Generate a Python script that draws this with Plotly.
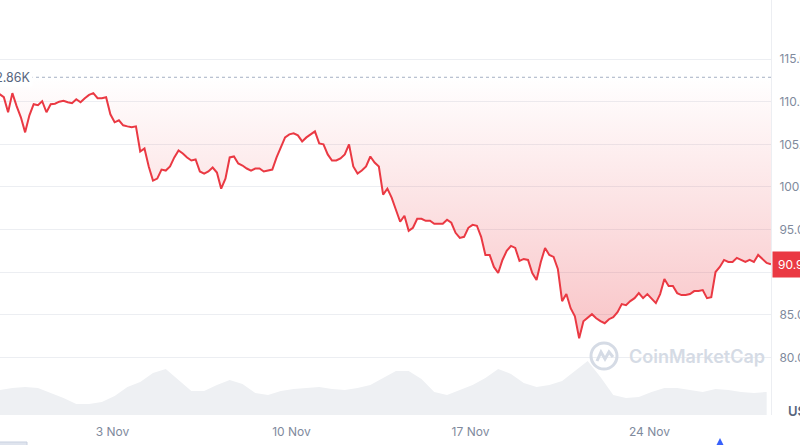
import pandas as pd
import plotly.graph_objects as go

# ---- data ----
price_start = "2025-10-29 14:00"
price_freq = "4h"
prices_k = [
    110.88, 110.52, 108.76, 111.00, 109.47, 108.17, 106.40, 108.40, 109.70, 109.58,
    110.05, 108.76, 109.70, 109.76, 110.00, 110.10, 109.93, 109.82, 110.29, 109.93,
    110.41, 110.80, 111.00, 110.41, 110.41, 110.52, 108.52, 107.58, 107.81, 107.23,
    107.10, 106.99, 107.10, 104.16, 104.52, 102.40, 100.75, 100.98, 102.04, 101.92,
    102.40, 103.46, 104.28, 103.93, 103.46, 103.10, 103.22, 101.81, 101.57, 101.81,
    102.28, 101.69, 99.80, 100.98, 103.46, 103.57, 102.75, 102.51, 102.16, 101.92,
    102.16, 102.16, 101.81, 101.92, 102.04, 103.46, 104.75, 105.81, 106.17, 106.28,
    106.05, 105.34, 105.81, 106.17, 106.52, 105.11, 104.99, 103.81, 103.10, 103.10,
    103.34, 103.81, 104.99, 102.40, 101.57, 101.92, 102.40, 103.57, 102.87, 102.40,
    99.10, 99.80, 98.74, 97.33, 95.92, 96.62, 94.86, 95.21, 96.27, 96.27,
    96.03, 96.03, 95.68, 95.68, 95.68, 96.15, 95.80, 94.62, 94.03, 94.15,
    95.21, 95.56, 95.45, 94.15, 92.03, 92.03, 90.62, 89.91, 91.44, 92.50,
    93.09, 92.85, 91.32, 91.56, 91.44, 89.91, 89.08, 91.20, 92.85, 92.03,
    91.80, 90.38, 86.61, 87.44, 85.78, 84.84, 82.25, 84.26, 84.73, 85.08,
    84.61, 84.26, 84.02, 84.49, 84.73, 85.31, 86.26, 86.14, 86.61, 86.96,
    87.55, 86.96, 87.44, 86.96, 86.38, 87.44, 89.20, 88.38, 88.38, 87.55,
    87.32, 87.32, 87.44, 87.79, 87.79, 87.91, 86.96, 87.08, 90.03, 90.62,
    91.44, 91.20, 91.20, 91.68, 91.44, 91.20, 91.44, 91.20, 92.03, 91.56,
    91.09, 90.93,
]
open_price_k = 112.86

volume_start = "2025-10-29 14:00"
volume_freq = "12h"
volumes_b = [
    50, 54, 56, 54, 44, 34, 22, 22, 26, 38, 56, 66, 84, 92, 70, 48, 48, 60, 70, 62,
    44, 40, 48, 52, 54, 56, 52, 50, 54, 60, 74, 88, 88, 72, 46, 40, 50, 60, 74, 92,
    82, 64, 56, 60, 68, 88, 108, 76, 40, 34, 36, 46, 54, 54, 50, 46, 52, 50, 46, 44, 46,
]

x_tick_dates = ["2025-11-03", "2025-11-10", "2025-11-17", "2025-11-24"]
x_tick_labels = ["3 Nov", "10 Nov", "17 Nov", "24 Nov"]
y_tick_vals = [80, 85, 90, 95, 100, 105, 110, 115]
y_tick_labels = ["80.00K", "85.00K", "90.00K", "95.00K", "100.00K", "105.00K", "110.00K", "115.00K"]

# ---- build ----
price_times = pd.date_range(start=price_start, periods=len(prices_k), freq=price_freq)
volume_times = pd.date_range(start=volume_start, periods=len(volumes_b), freq=volume_freq)

RED = "#ea3943"
GRID = "#eceef2"
TICK = "#808a9d"
FONT = "Inter"

fig = go.Figure()

fig.add_trace(go.Scatter(
    x=volume_times, y=volumes_b, yaxis="y2", mode="lines",
    line=dict(width=0, color="#eef0f3"), fill="tozeroy", fillcolor="#eef0f3",
    hoverinfo="skip", showlegend=False,
))

fig.add_trace(go.Scatter(
    x=price_times, y=[open_price_k] * len(prices_k), mode="lines",
    line=dict(width=0, color="rgba(0,0,0,0)"), hoverinfo="skip", showlegend=False,
))

fig.add_trace(go.Scatter(
    x=price_times, y=prices_k, mode="lines",
    line=dict(color=RED, width=2),
    fill="tonexty",
    fillgradient=dict(
        type="vertical",
        start=open_price_k, stop=82,
        colorscale=[[0, "rgba(234,57,67,0.0)"], [1, "rgba(234,57,67,0.30)"]],
    ),
    showlegend=False,
))

W, H = 800, 445
ML, MR, MT, MB = 0, 29, 0, 30
PW, PH = W - ML - MR, H - MT - MB


def px(xp):
    return xp / PW


def py(yp):
    return (PH - yp) / PH


shapes = [
    dict(type="line", xref="paper", x0=0, x1=1, yref="y", y0=open_price_k, y1=open_price_k,
         line=dict(color="#a6b0c3", width=1, dash="dot"), layer="above"),
    dict(type="circle", xref="paper", yref="paper",
         x0=px(591), x1=px(617), y0=py(369), y1=py(343),
         line=dict(color="#d5dbe5", width=3)),
    dict(type="path", xref="paper", yref="paper",
         path=f"M {px(597)} {py(361)} L {px(601)} {py(352)} L {px(605)} {py(359)} "
              f"L {px(609)} {py(352)} L {px(613)} {py(357)}",
         line=dict(color="#d5dbe5", width=3)),
    dict(type="path", xref="paper", yref="paper",
         path=f"M {px(716)} {py(446)} L {px(720)} {py(438)} L {px(724)} {py(446)} Z",
         fillcolor="#3861fb", line=dict(width=0)),
    dict(type="rect", xref="paper", yref="paper",
         x0=px(-6), x1=px(27), y0=py(452), y1=py(442),
         fillcolor="#dfe4ee", line=dict(color="#c9d1e0", width=1)),
]

annotations = [
    dict(xref="paper", x=px(33), xanchor="right", yref="y", y=open_price_k, yanchor="middle",
         text="112.86K", showarrow=False, bgcolor="white", borderpad=1,
         font=dict(family=FONT, size=12.5, color="#58667e")),
    dict(xref="paper", x=1, xanchor="left", xshift=1, yref="y", y=prices_k[-1], yanchor="middle",
         text="90.93K", showarrow=False, bgcolor=RED, borderpad=5,
         font=dict(family=FONT, size=12, color="white")),
    dict(xref="paper", x=px(627), xanchor="left", yref="paper", y=py(356), yanchor="middle",
         text="CoinMarketCap", showarrow=False,
         font=dict(family=FONT, size=18, color="#d5dbe5", weight=600)),
    dict(xref="paper", x=px(786), xanchor="left", yref="paper", y=py(411), yanchor="middle",
         text="USD", showarrow=False,
         font=dict(family=FONT, size=13, color="#58667e", weight=600)),
]

fig.update_layout(
    width=W, height=H,
    margin=dict(l=ML, r=MR, t=MT, b=MB, pad=0),
    paper_bgcolor="white", plot_bgcolor="white",
    showlegend=False,
    hovermode=False,
    font=dict(family=FONT, color=TICK, size=12),
    xaxis=dict(
        type="date", range=["2025-10-29 14:24", "2025-11-28 18:04"],
        tickvals=x_tick_dates, ticktext=x_tick_labels,
        showgrid=False, zeroline=False, showline=False,
        ticks="outside", ticklen=6, tickcolor="rgba(0,0,0,0)",
        tickfont=dict(family=FONT, size=12, color=TICK), automargin=False,
    ),
    yaxis=dict(
        side="right", range=[73.26, 121.92],
        tickvals=y_tick_vals, ticktext=y_tick_labels,
        showgrid=True, gridcolor=GRID, gridwidth=1, zeroline=False,
        showline=True, linecolor=GRID, linewidth=1, mirror=False,
        ticks="outside", ticklen=5, tickcolor="rgba(0,0,0,0)",
        tickfont=dict(family=FONT, size=12, color=TICK), automargin=False,
    ),
    yaxis2=dict(overlaying="y", range=[0, 830], visible=False, showgrid=False),
    shapes=shapes,
    annotations=annotations,
)

fig.write_html(
    "out.html",
    config={"displayModeBar": False},
    post_script="document.body.style.margin='0';document.body.style.overflow='hidden';",
)
